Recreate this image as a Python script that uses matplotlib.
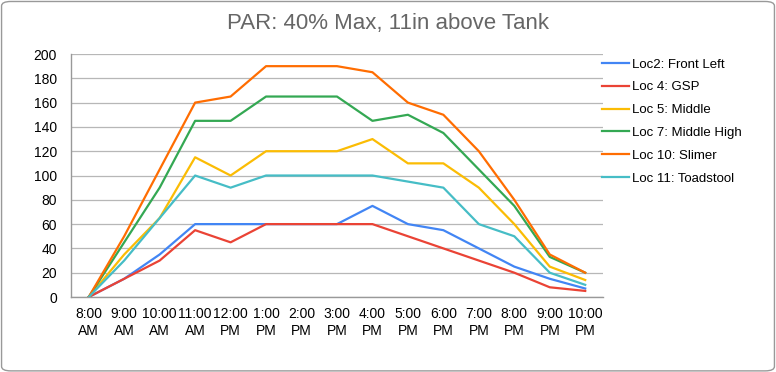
import numpy as np
import matplotlib
matplotlib.use('Agg')
import matplotlib.pyplot as plt
from matplotlib.patches import FancyBboxPatch

plt.rcParams['font.family'] = ['Liberation Sans', 'DejaVu Sans']

# heures de mesure
heures = ['8:00\nAM', '9:00\nAM', '10:00\nAM', '11:00\nAM', '12:00\nPM', '1:00\nPM',
          '2:00\nPM', '3:00\nPM', '4:00\nPM', '5:00\nPM', '6:00\nPM', '7:00\nPM',
          '8:00\nPM', '9:00\nPM', '10:00\nPM']

# valeurs PAR par emplacement
loc2 = [0, 15, 35, 60, 60, 60, 60, 60, 75, 60, 55, 40, 25, 15, 7]
loc4 = [0, 15, 30, 55, 45, 60, 60, 60, 60, 50, 40, 30, 20, 8, 5]
loc5 = [0, 35, 65, 115, 100, 120, 120, 120, 130, 110, 110, 90, 60, 25, 14]
loc7 = [0, 45, 90, 145, 145, 165, 165, 165, 145, 150, 135, 105, 75, 33, 20]
loc10 = [0, 50, 105, 160, 165, 190, 190, 190, 185, 160, 150, 120, 80, 35, 20]
loc11 = [0, 30, 65, 100, 90, 100, 100, 100, 100, 95, 90, 60, 50, 20, 10]

series = [
    (loc2, 'Loc2: Front Left', '#4285F4'),
    (loc4, 'Loc 4: GSP', '#EA4335'),
    (loc5, 'Loc 5: Middle', '#FBBC04'),
    (loc7, 'Loc 7: Middle High', '#34A853'),
    (loc10, 'Loc 10: Slimer', '#FF6D01'),
    (loc11, 'Loc 11: Toadstool', '#46BDC6'),
]

fig = plt.figure(figsize=(7.76, 3.72), dpi=100)
ax = fig.add_axes([0.0915, 0.2016, 0.6855, 0.6532])

x = np.arange(len(heures))
for vals, label, col in series:
    ax.plot(x, vals, color=col, lw=1.6, label=label)

ax.set_xlim(-0.5, len(heures) - 0.5)
ax.set_ylim(0, 200)
ax.set_yticks(np.arange(0, 201, 20))
ax.set_xticks(x)
ax.set_xticklabels(heures, fontsize=10, linespacing=1.3)
ax.tick_params(axis='y', labelsize=10, length=0, pad=10)
ax.tick_params(axis='x', length=0, pad=7)
ax.grid(axis='y', color='#b7b7b7', lw=0.9)
ax.set_axisbelow(True)
for s in ['top', 'right']:
    ax.spines[s].set_visible(False)
for s in ['left', 'bottom']:
    ax.spines[s].set_color('#999999')
    ax.spines[s].set_linewidth(1.0)

fig.text(0.5, 0.938, 'PAR: 40% Max, 11in above Tank', ha='center', va='center',
         fontsize=16, color='#666666')

fig.legend(loc='upper left', bbox_to_anchor=(0.776, 0.843), frameon=False,
           fontsize=9.5, handlelength=2.0, handletextpad=0.25, labelspacing=0.8,
           borderaxespad=0, borderpad=0)

# cadre arrondi
cadre = FancyBboxPatch((0.002, 0.003), 0.996, 0.993, boxstyle='round,pad=0,rounding_size=0.012',
                       transform=fig.transFigure, fill=False, edgecolor='#999999', lw=1.0)
fig.patches.append(cadre)

fig.savefig('out.png', dpi=100)
